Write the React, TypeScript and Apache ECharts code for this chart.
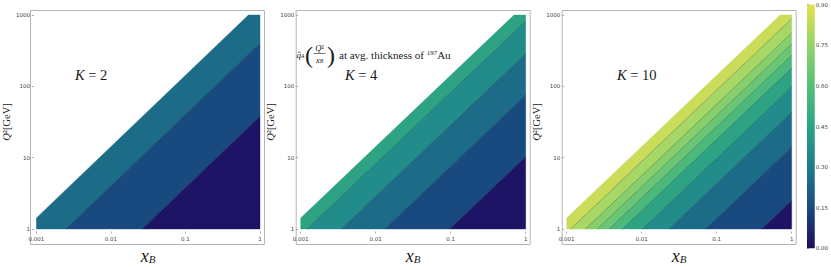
import React, { useEffect, useRef } from 'react';
import * as echarts from 'echarts';

// ---------------- data ----------------
const X_RANGE = [0.001, 1];
const Q2_RANGE = [1, 1000];
const RATIO_LIMIT = 1430; // kinematic edge, Q^2 / x_B

const PANEL_K = [2, 4, 10];
// contour lines given as Q^2/x_B values (top -> bottom)
const RATIOS_K2 = [400, 38];
const LEVELS_K2 = [0.25, 0.15, 0.05];
const RATIOS_K4 = [820, 285, 75, 10.3];
const LEVELS_K4 = [0.45, 0.35, 0.25, 0.15, 0.05];
const RATIOS_K10 = [885, 560, 390, 272, 180, 97, 43, 14, 2.5];
const LEVELS_K10 = [0.95, 0.85, 0.75, 0.65, 0.55, 0.45, 0.35, 0.25, 0.15, 0.05];

const BAND_LEVELS = [0.05, 0.15, 0.25, 0.35, 0.45, 0.55, 0.65, 0.75, 0.85, 0.95];
const BAND_COLORS = ['#1e1466', '#184a80', '#1c6c88', '#228c8a', '#2ea384', '#4cb87c', '#6ac674', '#86cf6c', '#a7d764', '#cbdb5a'];

const COLORBAR_TICKS = [0, 0.15, 0.3, 0.45, 0.6, 0.75, 0.9];
const COLORBAR_COLORS = ['#1f0c5b', '#194a80', '#1f7b8a', '#2aa386', '#55bf78', '#92d36a', '#e5e14e'];

const PANELS = [
  { ratios: RATIOS_K2, levels: LEVELS_K2 },
  { ratios: RATIOS_K4, levels: LEVELS_K4 },
  { ratios: RATIOS_K10, levels: LEVELS_K10 },
];

// ---------------- layout ----------------
const PLOT_LEFT = [35, 300.7, 566.7];
const PLOT_TOP = 15;
const PLOT_SIZE = 225;
const PAD = 4.5;
const SERIF = '"Liberation Serif", "Times New Roman", "DejaVu Serif", serif';
const SANS = '"DejaVu Sans", sans-serif';
const INK = '#1a1a1a';

function hexToRgb(h: string) {
  const n = parseInt(h.slice(1), 16);
  return [(n >> 16) & 255, (n >> 8) & 255, n & 255];
}
function sampleColor(values: number[], colors: string[], v: number) {
  if (v <= values[0]) return colors[0];
  if (v >= values[values.length - 1]) return colors[colors.length - 1];
  for (let i = 0; i < values.length - 1; i++) {
    if (v >= values[i] && v <= values[i + 1]) {
      const t = (v - values[i]) / (values[i + 1] - values[i]);
      const a = hexToRgb(colors[i]);
      const b = hexToRgb(colors[i + 1]);
      const c = a.map((x, k) => Math.round(x + (b[k] - x) * t));
      return `rgb(${c[0]},${c[1]},${c[2]})`;
    }
  }
  return colors[0];
}

// polygon clipping in log space (u = log x, v = log Q^2)
function clipHalf(poly: number[][], c: number, keepBelow: boolean) {
  const f = (p: number[]) => (p[1] - p[0] - c) * (keepBelow ? 1 : -1);
  const out: number[][] = [];
  for (let i = 0; i < poly.length; i++) {
    const a = poly[i];
    const b = poly[(i + 1) % poly.length];
    const fa = f(a);
    const fb = f(b);
    if (fa <= 0) out.push(a);
    if ((fa < 0 && fb > 0) || (fa > 0 && fb < 0)) {
      const t = fa / (fa - fb);
      out.push([a[0] + t * (b[0] - a[0]), a[1] + t * (b[1] - a[1])]);
    }
  }
  return out;
}
const U0 = Math.log10(X_RANGE[0]);
const U1 = Math.log10(X_RANGE[1]);
const V0 = Math.log10(Q2_RANGE[0]);
const V1 = Math.log10(Q2_RANGE[1]);

function bandPolygon(hi: number, lo: number) {
  let poly = [[U0, V0], [U1, V0], [U1, V1], [U0, V1]];
  poly = clipHalf(poly, Math.log10(hi), true);
  if (lo > 0) poly = clipHalf(poly, Math.log10(lo), false);
  return poly;
}
function ratioSegment(r: number) {
  const c = Math.log10(r);
  const ua = Math.max(U0, V0 - c);
  const ub = Math.min(U1, V1 - c);
  return [[ua, ua + c], [ub, ub + c]];
}

function buildOption() {
  const grids: any[] = [];
  const xAxes: any[] = [];
  const yAxes: any[] = [];
  const series: any[] = [];
  const graphics: any[] = [];

  PANELS.forEach((panel, i) => {
    grids.push({ left: PLOT_LEFT[i], top: PLOT_TOP, width: PLOT_SIZE, height: PLOT_SIZE });
    xAxes.push({
      gridIndex: i,
      type: 'log',
      logBase: 10,
      min: X_RANGE[0],
      max: X_RANGE[1],
      offset: PAD,
      axisLine: { show: false },
      axisTick: { show: true, inside: true, length: 2, lineStyle: { color: '#999', width: 0.8 } },
      axisLabel: {
        fontSize: 5.5,
        color: '#444',
        margin: 2.5,
        fontFamily: SANS,
        formatter: (v: number) => String(+v.toPrecision(3)),
      },
      splitLine: { show: false },
      name: '{x|x}{b|B}',
      nameLocation: 'middle',
      nameGap: 14,
      nameTextStyle: {
        rich: {
          x: { fontFamily: SERIF, fontStyle: 'italic', fontSize: 18, lineHeight: 17, color: INK },
          b: { fontFamily: SERIF, fontStyle: 'italic', fontSize: 11, lineHeight: 8, verticalAlign: 'bottom', color: INK },
        },
      },
    });
    yAxes.push({
      gridIndex: i,
      type: 'log',
      logBase: 10,
      min: Q2_RANGE[0],
      max: Q2_RANGE[1],
      offset: PAD,
      axisLine: { show: false },
      axisTick: { show: true, inside: true, length: 2, lineStyle: { color: '#999', width: 0.8 } },
      axisLabel: {
        fontSize: 5.5,
        color: '#444',
        margin: 2,
        fontFamily: SANS,
        formatter: (v: number) => String(+v.toPrecision(3)),
      },
      splitLine: { show: false },
      name: '{q|Q}{r|²[GeV]}',
      nameLocation: 'middle',
      nameRotate: 90,
      nameGap: 17,
      nameTextStyle: {
        rich: {
          q: { fontFamily: SERIF, fontStyle: 'italic', fontSize: 10.5, color: INK },
          r: { fontFamily: SERIF, fontSize: 10.5, color: INK },
        },
      },
    });
    const { ratios, levels } = panel;
    series.push({
      type: 'custom',
      coordinateSystem: 'cartesian2d',
      xAxisIndex: i,
      yAxisIndex: i,
      silent: true,
      data: levels.map((lv, j) => [0.01, 10, j]),
      encode: { x: 0, y: 1 },
      renderItem: (params: any, api: any) => {
        const j = api.value(2);
        const hi = j === 0 ? RATIO_LIMIT : ratios[j - 1];
        const lo = j === levels.length - 1 ? 0 : ratios[j];
        const color = sampleColor(BAND_LEVELS, BAND_COLORS, levels[j]);
        const pts = bandPolygon(hi, lo).map(([u, v]) => api.coord([Math.pow(10, u), Math.pow(10, v)]));
        const children: any[] = [
          { type: 'polygon', shape: { points: pts }, style: { fill: color, stroke: color, lineWidth: 0.4 } },
        ];
        if (j > 0) {
          const seg = ratioSegment(hi).map(([u, v]) => api.coord([Math.pow(10, u), Math.pow(10, v)]));
          children.push({
            type: 'line',
            shape: { x1: seg[0][0], y1: seg[0][1], x2: seg[1][0], y2: seg[1][1] },
            style: { stroke: 'rgba(25,35,45,0.4)', lineWidth: 0.7 },
          });
        }
        return { type: 'group', children };
      },
    });
    graphics.push({
      type: 'rect',
      z: -1,
      shape: { x: PLOT_LEFT[i] - PAD, y: PLOT_TOP - PAD, width: PLOT_SIZE + 2 * PAD, height: PLOT_SIZE + 2 * PAD },
      style: { fill: 'none', stroke: '#b4b4b4', lineWidth: 1 },
    });
  });

  // colour bar
  grids.push({ left: 807, top: 4.7, width: 10, height: 243.6 });
  xAxes.push({ gridIndex: 3, type: 'value', min: 0, max: 1, show: false });
  yAxes.push({
    gridIndex: 3,
    type: 'value',
    position: 'right',
    min: COLORBAR_TICKS[0],
    max: COLORBAR_TICKS[COLORBAR_TICKS.length - 1],
    interval: 0.15,
    axisLine: { show: false },
    axisTick: { show: true, length: 2, lineStyle: { color: '#888', width: 0.8 } },
    axisLabel: { fontSize: 5.5, color: '#444', margin: 1, fontFamily: SANS, formatter: (v: number) => v.toFixed(2) },
    splitLine: { show: false },
  });
  const cbMax = COLORBAR_TICKS[COLORBAR_TICKS.length - 1];
  series.push({
    type: 'custom',
    coordinateSystem: 'cartesian2d',
    xAxisIndex: 3,
    yAxisIndex: 3,
    silent: true,
    data: [[1, cbMax]],
    renderItem: (params: any, api: any) => {
      const p0 = api.coord([0, COLORBAR_TICKS[0]]);
      const p1 = api.coord([1, cbMax]);
      return {
        type: 'rect',
        shape: { x: p0[0], y: p1[1], width: p1[0] - p0[0], height: p0[1] - p1[1] },
        style: {
          fill: new echarts.graphic.LinearGradient(0, 1, 0, 0,
            COLORBAR_TICKS.map((v, k) => ({ offset: v / cbMax, color: COLORBAR_COLORS[k] }))),
        },
      };
    },
  });

  // K labels
  const kX = [75, 345, 617];
  PANEL_K.forEach((k, i) => {
    graphics.push({
      type: 'text',
      x: kX[i],
      y: 74.5,
      style: {
        text: `{i|K}{r| = ${k}}`,
        align: 'left',
        verticalAlign: 'middle',
        rich: {
          i: { fontFamily: SERIF, fontStyle: 'italic', fontSize: 14.5, fill: INK },
          r: { fontFamily: SERIF, fontSize: 14.5, fill: INK },
        },
      },
    });
  });

  // annotation in the middle panel
  const annY = 54.5;
  graphics.push(
    {
      type: 'text', x: 296.5, y: annY,
      style: {
        text: '{q|q̂}{a|A}', align: 'left', verticalAlign: 'middle',
        rich: {
          q: { fontFamily: SERIF, fontStyle: 'italic', fontSize: 9, lineHeight: 9, fill: INK },
          a: { fontFamily: SERIF, fontStyle: 'italic', fontSize: 5.5, lineHeight: 5, verticalAlign: 'bottom', fill: INK },
        },
      },
    },
    {
      type: 'text', x: 305, y: annY,
      style: { text: '(', fontFamily: SERIF, fontSize: 24, fill: INK, align: 'left', verticalAlign: 'middle' },
    },
    {
      type: 'text', x: 319.5, y: 47.5,
      style: {
        text: '{q|Q}{r|²}', align: 'center', verticalAlign: 'middle',
        rich: {
          q: { fontFamily: SERIF, fontStyle: 'italic', fontSize: 8.5, fill: INK },
          r: { fontFamily: SERIF, fontSize: 8.5, fill: INK },
        },
      },
    },
    {
      type: 'line',
      shape: { x1: 313.5, y1: 53.5, x2: 325.5, y2: 53.5 },
      style: { stroke: INK, lineWidth: 0.6 },
    },
    {
      type: 'text', x: 319.5, y: 59.5,
      style: {
        text: '{x|x}{b|B}', align: 'center', verticalAlign: 'middle',
        rich: {
          x: { fontFamily: SERIF, fontStyle: 'italic', fontSize: 8.5, lineHeight: 8, fill: INK },
          b: { fontFamily: SERIF, fontStyle: 'italic', fontSize: 5.5, lineHeight: 5, verticalAlign: 'bottom', fill: INK },
        },
      },
    },
    {
      type: 'text', x: 327, y: annY,
      style: { text: ')', fontFamily: SERIF, fontSize: 24, fill: INK, align: 'left', verticalAlign: 'middle' },
    },
    {
      type: 'text', x: 339, y: annY + 0.5,
      style: {
        text: '{t|at avg. thickness of }{s|197}{t|Au}', align: 'left', verticalAlign: 'middle',
        rich: {
          t: { fontFamily: SERIF, fontSize: 11, lineHeight: 12, fill: INK },
          s: { fontFamily: SERIF, fontSize: 7, lineHeight: 7, verticalAlign: 'top', fill: INK },
        },
      },
    }
  );

  return {
    animation: false,
    backgroundColor: '#fff',
    grid: grids,
    xAxis: xAxes,
    yAxis: yAxes,
    series,
    graphic: graphics,
  };
}

export default function App() {
  const ref = useRef<HTMLDivElement>(null);
  useEffect(() => {
    const chart = echarts.init(ref.current as HTMLDivElement, null, { renderer: 'svg' });
    chart.setOption(buildOption() as any);
    return () => chart.dispose();
  }, []);
  return (
    <div
      ref={ref}
      style={{ position: 'fixed', left: 0, top: 0, width: 831, height: 270, background: '#fff' }}
    />
  );
}
